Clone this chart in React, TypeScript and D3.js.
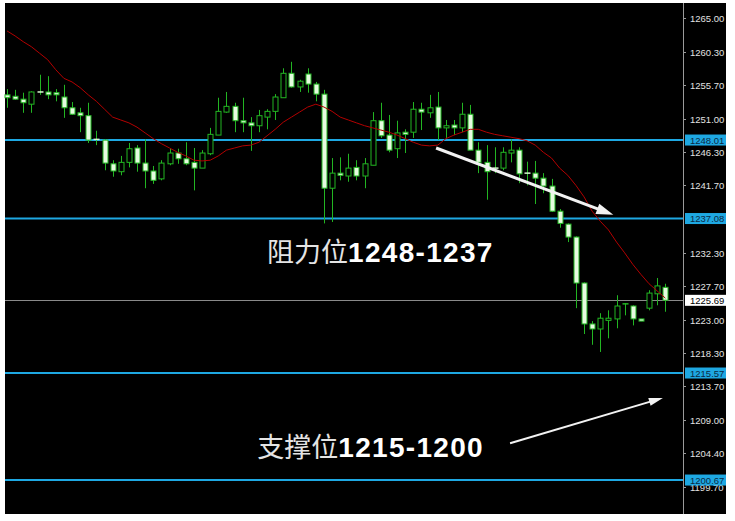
import React from "react";
import * as d3 from "d3";

const opens = [1254.3,1254.1,1253.7,1253.0,1254.7,1254.7,1254.6,1254.0,1252.5,1251.8,1251.4,1248.1,1248.0,1244.7,1243.6,1244.9,1246.9,1244.8,1243.7,1242.6,1244.7,1246.2,1245.4,1244.9,1244.1,1246.1,1248.7,1251.9,1252.7,1250.7,1250.4,1250.0,1251.2,1252.0,1253.9,1257.3,1255.4,1257.2,1255.8,1254.4,1241.3,1243.4,1243.0,1244.2,1243.0,1244.5,1250.7,1248.7,1246.8,1249.1,1249.1,1252.3,1251.8,1252.6,1249.7,1250.1,1249.7,1251.6,1246.6,1244.9,1244.1,1244.1,1246.2,1246.6,1243.4,1243.4,1242.7,1241.6,1238.1,1236.3,1234.5,1228.1,1222.4,1221.7,1222.9,1223.1,1225.0,1224.9,1223.1,1224.6,1226.6,1227.5];
const highs = [1255.1,1255.0,1254.6,1254.8,1257.1,1256.9,1255.1,1255.7,1253.3,1252.5,1253.2,1249.3,1248.1,1245.2,1245.8,1247.6,1247.3,1248.1,1244.4,1245.2,1246.9,1246.8,1247.7,1246.9,1246.6,1249.7,1253.9,1254.7,1253.2,1253.9,1251.2,1252.2,1252.3,1254.4,1258.0,1258.9,1256.4,1258.0,1256.1,1255.0,1245.5,1245.6,1246.1,1245.2,1245.5,1251.9,1253.2,1251.5,1250.7,1249.5,1253.3,1253.2,1254.3,1254.7,1250.8,1250.8,1253.2,1252.9,1247.7,1247.3,1247.0,1247.0,1248.1,1247.0,1245.0,1245.1,1243.4,1242.6,1238.4,1236.4,1234.6,1228.2,1222.8,1223.9,1224.3,1226.4,1225.3,1225.0,1223.1,1227.1,1228.8,1228.0];
const lows = [1252.5,1253.6,1251.8,1251.8,1254.3,1253.7,1253.4,1251.1,1251.5,1249.1,1247.6,1247.3,1243.8,1242.9,1243.1,1244.2,1243.6,1241.3,1241.9,1242.4,1244.5,1244.7,1244.5,1241.0,1244.1,1245.9,1248.7,1251.8,1249.1,1249.1,1246.5,1249.1,1249.5,1250.8,1253.9,1255.3,1254.7,1254.6,1253.4,1236.4,1236.6,1242.4,1242.2,1242.4,1241.3,1244.5,1248.3,1246.3,1245.5,1246.2,1248.3,1249.4,1251.1,1248.0,1248.3,1248.7,1249.1,1246.6,1243.4,1239.7,1243.4,1243.8,1244.9,1242.0,1241.7,1239.1,1240.6,1238.0,1235.8,1233.8,1224.6,1221.0,1219.5,1218.5,1220.4,1221.8,1223.6,1222.2,1222.8,1224.3,1225.0,1224.1];
const closes = [1253.9,1253.7,1253.2,1254.7,1254.6,1254.3,1254.3,1252.5,1251.6,1251.4,1248.0,1247.9,1244.8,1243.7,1244.9,1246.8,1244.8,1243.7,1242.4,1244.8,1246.2,1245.4,1244.7,1244.1,1246.2,1248.8,1252.0,1252.7,1250.7,1250.4,1250.0,1251.4,1252.0,1254.0,1257.3,1255.4,1256.2,1255.8,1254.4,1241.3,1243.4,1243.1,1244.1,1243.0,1244.7,1250.7,1248.6,1246.6,1249.0,1248.8,1252.3,1251.9,1252.5,1249.7,1250.0,1249.7,1251.6,1246.6,1244.9,1243.6,1244.0,1246.3,1246.6,1243.3,1243.3,1242.7,1241.6,1238.1,1236.4,1234.5,1228.1,1222.4,1221.7,1223.2,1223.2,1224.9,1225.2,1223.1,1222.8,1226.7,1227.7,1225.7];
const maValues = [1263.2,1262.5,1261.7,1261.0,1260.1,1259.2,1257.8,1256.6,1256.1,1255.3,1254.3,1253.4,1252.3,1251.2,1250.8,1250.4,1249.8,1249.0,1248.2,1247.5,1246.9,1246.3,1245.8,1245.2,1245.1,1245.2,1245.8,1246.6,1246.9,1247.2,1247.3,1247.7,1248.6,1249.5,1250.5,1251.2,1251.9,1252.6,1253.0,1252.6,1252.0,1251.2,1250.8,1250.4,1250.0,1249.7,1249.4,1249.1,1248.7,1248.2,1247.7,1247.3,1247.2,1247.3,1248.2,1248.7,1249.1,1249.5,1249.5,1249.1,1248.8,1248.6,1248.4,1248.2,1247.9,1247.3,1246.3,1245.5,1244.1,1243.1,1241.7,1240.1,1238.1,1236.7,1235.5,1233.8,1232.3,1230.7,1229.3,1228.0,1227.0,1226.0];

const tickValues = ["1265.00","1260.30","1255.70","1251.00","1246.30","1241.70","1232.30","1227.70","1223.00","1218.30","1213.70","1209.00","1204.40","1199.70"];
const levelLines = [1248.01, 1237.08, 1215.57, 1200.67];
const bidPrice = 1225.69;

// annotations: [index, price]
const arrowDown = [[52.8, 1246.9], [74.6, 1237.6]];
const arrowUp = [[61.9, 1205.8], [80.7, 1212.1]];
const labelResistance = { idx: 32.0, price: 1231.0, cn: "阻力位", num: "1248-1237" };
const labelSupport = { idx: 30.8, price: 1203.9, cn: "支撑位", num: "1215-1200" };

const W = 735, H = 521;
const left = 5, right = 726, top = 3, bottom = 514, axisX = 683;

function Arrow({ p0, p1, w, headLen, headW, color }: any) {
  const [x0, y0] = p0, [x1, y1] = p1;
  const dx = x1 - x0, dy = y1 - y0;
  const len = Math.hypot(dx, dy);
  const ux = dx / len, uy = dy / len;
  const bx = x1 - ux * headLen, by = y1 - uy * headLen;
  const nx = -uy, ny = ux;
  const pts = `${x1},${y1} ${bx + nx * headW / 2},${by + ny * headW / 2} ${bx - nx * headW / 2},${by - ny * headW / 2}`;
  return (
    <g>
      <line x1={x0} y1={y0} x2={bx + ux} y2={by + uy} stroke={color} strokeWidth={w} />
      <polygon points={pts} fill={color} />
    </g>
  );
}

export default function App() {
  const x = d3.scaleLinear().domain([0, opens.length - 1]).range([7, 665.3]);
  const y = d3.scaleLinear().domain([1199.7, 1265]).range([487, 18]);
  const maLine = d3.line<number>().x((_, i) => x(i)).y((d) => y(d));
  const green = "#22b522";
  const bodyW = 5;

  return (
    <svg width={W} height={H} style={{ position: "absolute", left: 0, top: 0, background: "#fff" }}>
      <rect x={left} y={top} width={right - left} height={bottom - top} fill="#000" />
      {levelLines.map((v) => (
        <line key={v} x1={left} x2={axisX} y1={y(v)} y2={y(v)} stroke="#1ea8e2" strokeWidth={2} />
      ))}
      <line x1={left} x2={axisX} y1={Math.round(y(bidPrice)) + 0.5} y2={Math.round(y(bidPrice)) + 0.5} stroke="#8a8a8a" strokeWidth={1} />
      {opens.map((o, i) => {
        const c = closes[i];
        const cx = Math.round(x(i)) + 0.5;
        const bull = c > o;
        const yt = y(Math.max(o, c));
        const yb = y(Math.min(o, c));
        const hgt = Math.max(1, yb - yt);
        return (
          <g key={i}>
            <line x1={cx} x2={cx} y1={y(highs[i])} y2={y(lows[i])} stroke={green} strokeWidth={1} />
            {hgt <= 1.5 ? (
              <line x1={cx - bodyW / 2 - 0.5} x2={cx + bodyW / 2 + 0.5} y1={yt} y2={yt} stroke={bull ? green : "#d8f8d0"} strokeWidth={1.5} />
            ) : (
              <rect x={cx - bodyW / 2} y={yt} width={bodyW} height={hgt} fill={bull ? "#000" : "#e6fbe0"} stroke={green} strokeWidth={1} />
            )}
          </g>
        );
      })}
      <path d={maLine(maValues) || ""} fill="none" stroke="#b30000" strokeWidth={1} />
      <Arrow p0={[x(arrowDown[0][0]), y(arrowDown[0][1])]} p1={[x(arrowDown[1][0]), y(arrowDown[1][1])]} w={3} headLen={17} headW={11} color="#f2f2f2" />
      <Arrow p0={[x(arrowUp[0][0]), y(arrowUp[0][1])]} p1={[x(arrowUp[1][0]), y(arrowUp[1][1])]} w={2} headLen={14} headW={8} color="#f2f2f2" />
      {[labelResistance, labelSupport].map((l) => (
        <text key={l.cn} x={x(l.idx)} y={y(l.price)} fontSize={27} fill="#f4f4f4" fontFamily="'Noto Sans CJK SC', 'Liberation Sans', sans-serif">
          <tspan fontWeight="normal" fill="#e4e4e4">{l.cn}</tspan>
          <tspan fontWeight="bold" fontSize={28} letterSpacing={1.3} fontFamily="'Liberation Sans', Arial, sans-serif" fill="#ffffff">{l.num}</tspan>
        </text>
      ))}
      <line x1={axisX + 0.5} x2={axisX + 0.5} y1={top} y2={bottom} stroke="#9a9a9a" strokeWidth={1} />
      {tickValues.map((t) => {
        const ty = Math.round(y(+t)) + 0.5;
        return (
          <g key={t}>
            <line x1={axisX} x2={axisX + 3} y1={ty} y2={ty} stroke="#9a9a9a" />
            <text x={690} y={ty + 3.5} fontSize={9.5} fill="#e2e2e2" fontFamily="'Liberation Sans', Arial, sans-serif">{t}</text>
          </g>
        );
      })}
      {levelLines.map((v) => (
        <g key={"l" + v}>
          <rect x={axisX + 2} y={y(v) - 5.5} width={41} height={11} fill="#1ea8e2" />
          <text x={690} y={y(v) + 3.5} fontSize={9.5} fill="#0b2a44" fontFamily="'Liberation Sans', Arial, sans-serif">{v.toFixed(2)}</text>
        </g>
      ))}
      <g>
        <rect x={axisX + 2} y={y(bidPrice) - 5.5} width={41} height={11} fill="#ffffff" />
        <text x={690} y={y(bidPrice) + 3.5} fontSize={9.5} fill="#000" fontFamily="'Liberation Sans', Arial, sans-serif">{bidPrice.toFixed(2)}</text>
      </g>
    </svg>
  );
}
